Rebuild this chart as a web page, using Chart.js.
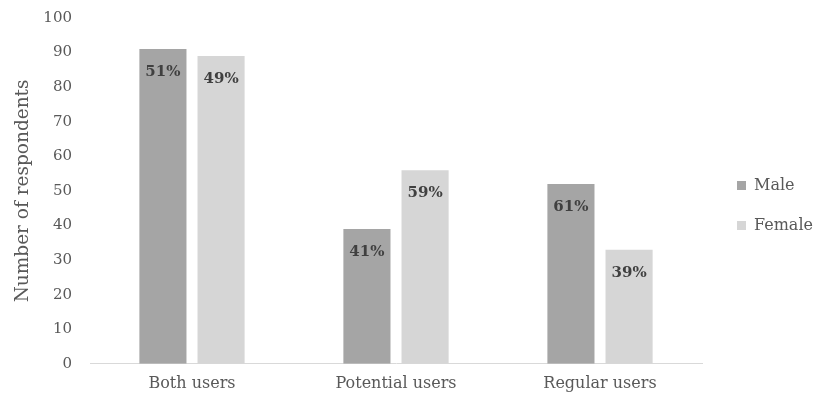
<!DOCTYPE html>
<html>
<head>
<meta charset="utf-8">
<script src="https://cdn.jsdelivr.net/npm/chart.js@4.4.1/dist/chart.umd.min.js"></script>
<style>
  html, body { margin: 0; padding: 0; background: #ffffff; }
  #wrap { width: 816px; height: 403px; }
</style>
</head>
<body>
<div id="wrap"><canvas id="c" width="816" height="403"></canvas></div>
<script>
// Respondents by user group and gender
const categories = ["Both users", "Potential users", "Regular users"];
const maleCounts = [91, 39, 52];
const femaleCounts = [89, 56, 33];
const yTicks = [0, 10, 20, 30, 40, 50, 60, 70, 80, 90, 100];

const FONT = "'DejaVu Serif', serif";

// Share of each gender within a group, rounded to a whole percent
function share(a, b) { return Math.round(a / (a + b) * 100) + "%"; }
const maleShare = maleCounts.map((m, i) => share(m, femaleCounts[i]));
const femaleShare = femaleCounts.map((f, i) => share(f, maleCounts[i]));

// Writes the percentage near the top of every bar
const barLabels = {
  id: "barLabels",
  afterDatasetsDraw(chart) {
    const ctx = chart.ctx;
    ctx.save();
    ctx.font = "bold 15px " + FONT;
    ctx.fillStyle = "#404040";
    ctx.textAlign = "center";
    ctx.textBaseline = "middle";
    const texts = [maleShare, femaleShare];
    chart.data.datasets.forEach((ds, di) => {
      chart.getDatasetMeta(di).data.forEach((bar, i) => {
        ctx.fillText(texts[di][i], bar.x, bar.y + 23);
      });
    });
    ctx.restore();
  }
};

// Nudges the legend block towards the right edge of the canvas
const legendShift = {
  id: "legendShift",
  afterLayout(chart) {
    const lg = chart.legend;
    if (!lg) return;
    const dx = 713 - lg.left;
    lg.left += dx;
    lg.right += dx;
    lg.top += 4;
    lg.bottom += 4;
  }
};

new Chart(document.getElementById("c"), {
  type: "bar",
  data: {
    labels: categories,
    datasets: [
      { label: "Male", data: maleCounts, backgroundColor: "#a5a5a5",
        barPercentage: 0.81, categoryPercentage: 0.57 },
      { label: "Female", data: femaleCounts, backgroundColor: "#d6d6d6",
        barPercentage: 0.81, categoryPercentage: 0.57 }
    ]
  },
  options: {
    responsive: false,
    animation: false,
    devicePixelRatio: 1,
    layout: { padding: { left: 9, right: 4, top: 0, bottom: 0 } },
    plugins: {
      tooltip: { enabled: false },
      legend: {
        position: "right",
        align: "center",
        labels: {
          boxWidth: 9,
          boxHeight: 9,
          padding: 24,
          color: "#595959",
          font: { family: FONT, size: 16 }
        }
      }
    },
    scales: {
      x: {
        grid: { display: false, drawTicks: false },
        border: { display: true, color: "#d9d9d9", width: 1 },
        ticks: { color: "#595959", font: { family: FONT, size: 16 }, padding: 10 }
      },
      y: {
        min: 0,
        max: 100,
        afterBuildTicks(axis) { axis.ticks = yTicks.map(v => ({ value: v })); },
        grid: { display: false, drawTicks: false },
        border: { display: false },
        ticks: { color: "#595959", font: { family: FONT, size: 15 }, padding: 18 },
        title: {
          display: true,
          text: "Number of respondents",
          color: "#595959",
          font: { family: FONT, size: 18.5 },
          padding: { top: 3, bottom: 2 }
        },
        afterFit(axis) {
          axis.width = 81;
          axis.paddingTop = 18;
        }
      }
    }
  },
  plugins: [barLabels, legendShift]
});
</script>
</body>
</html>
